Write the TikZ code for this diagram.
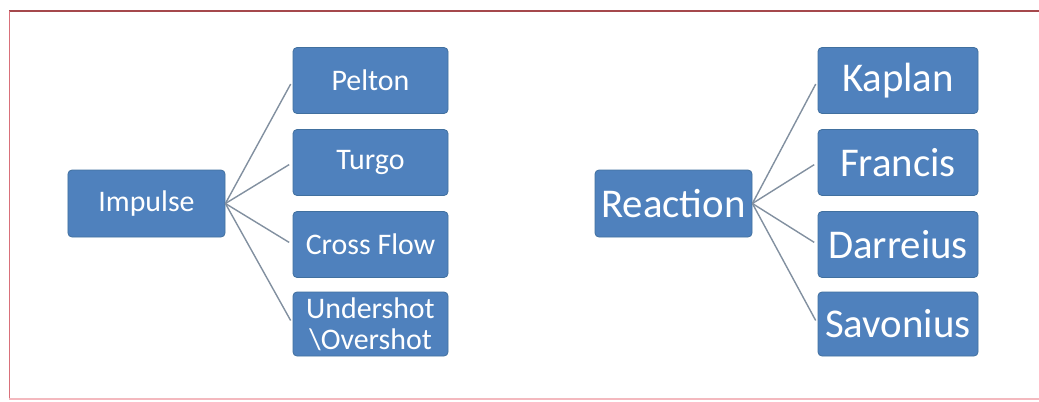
\documentclass[tikz,border=0pt]{standalone}
\usepackage{fontspec}
\setmainfont{Carlito}
\definecolor{boxblue}{HTML}{4F81BD}
\definecolor{boxedge}{HTML}{41709F}
\definecolor{linkgray}{HTML}{8290A0}
\definecolor{topred}{HTML}{A5484C}
\definecolor{sidered}{HTML}{D9707A}
\definecolor{botpink}{HTML}{F4B8BE}
\tikzset{
  box/.style={rectangle, rounded corners=4bp, fill=boxblue, draw=boxedge, line width=0.8bp,
    text=white, inner sep=0pt, align=center},
  smallbox/.style={box, font=\fontsize{30}{31}\selectfont},
  bigbox/.style={box, font=\fontsize{41}{43}\selectfont},
  link/.style={draw=linkgray, line width=1.4bp, shorten >=4bp}
}
\begin{document}
\begin{tikzpicture}[x=1bp,y=-1bp]
\useasboundingbox (0,0) rectangle (1039,401);
\fill[white] (0,0) rectangle (1039,401);
% frame
\draw[topred, line width=2bp] (9,11) -- (1039,11);
\draw[sidered, line width=1bp] (9,11) -- (9,399);
\draw[botpink, line width=1.5bp] (9,399) -- (1039,399);
% left tree
\node[smallbox, minimum width=157bp, minimum height=67bp] (imp) at (146.5,203.5) {Impulse};
\node[smallbox, minimum width=155bp, minimum height=66bp] (pel) at (370.5,80.5) {Pelton};
\node[smallbox, minimum width=155bp, minimum height=66bp] (tur) at (370.5,162.5) {Turgo};
\node[smallbox, minimum width=155bp, minimum height=66bp] (cro) at (370.5,244.5) {Cross Flow};
\node[smallbox, minimum width=155bp, minimum height=64bp] (und) at (370.5,324) {Undershot\\\textbackslash Overshot};
% right tree
\node[bigbox, minimum width=157bp, minimum height=67bp] (rea) at (673.5,203.5) {Reaction};
\node[bigbox, minimum width=160bp, minimum height=66bp] (kap) at (898,80.5) {Kaplan};
\node[bigbox, minimum width=160bp, minimum height=66bp] (fra) at (898,162.5) {Francis};
\node[bigbox, minimum width=160bp, minimum height=66bp] (dar) at (898,244.5) {Darreius};
\node[bigbox, minimum width=160bp, minimum height=64bp] (sav) at (898,324) {Savonius};
% connectors
\foreach \c in {pel,tur,cro,und} \draw[link] (imp.east) -- (\c.west);
\foreach \c in {kap,fra,dar,sav} \draw[link] (rea.east) -- (\c.west);
\end{tikzpicture}
\end{document}
